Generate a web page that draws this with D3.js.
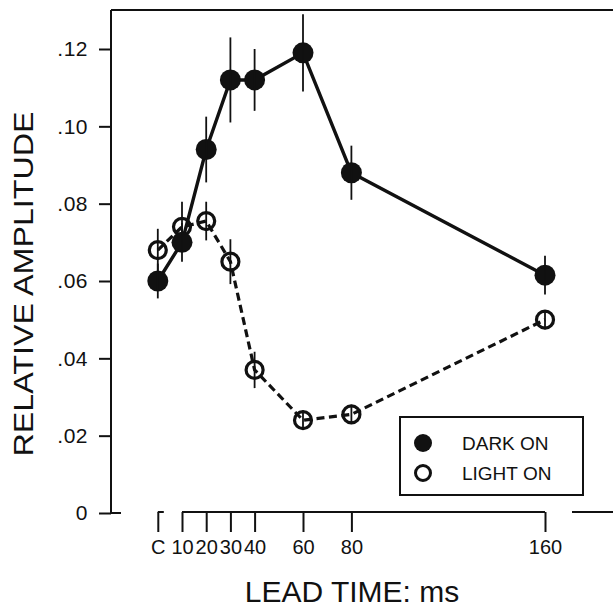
<!DOCTYPE html>
<html>
<head>
<meta charset="utf-8">
<script src="https://cdn.jsdelivr.net/npm/d3@7"></script>
<style>
  html, body { margin: 0; padding: 0; background: #fff; }
  svg { display: block; }
  text { font-family: "Liberation Sans", Arial, Helvetica, sans-serif; fill: #111; }
</style>
</head>
<body>
<svg id="chart" width="613" height="610"></svg>
<script>
// Lead times (ms); 0 stands for the control condition "C"
const leadTimes = [0, 10, 20, 30, 40, 60, 80, 160];
const leadLabels = ["C", "10", "20", "30", "40", "60", "80", "160"];

// Relative amplitude, mean and error, per lead time
const darkOn = [0.060, 0.070, 0.094, 0.112, 0.112, 0.119, 0.088, 0.0615];
const darkOnErr = [0.0045, 0.005, 0.0085, 0.011, 0.008, 0.010, 0.007, 0.005];
const lightOn = [0.068, 0.074, 0.0755, 0.065, 0.037, 0.024, 0.0255, 0.050];
const lightOnErr = [0.0055, 0.0065, 0.005, 0.0058, 0.0047, 0.0025, 0.0025, 0.0025];

const yTicks = [0, 0.02, 0.04, 0.06, 0.08, 0.10, 0.12];
const legendLabels = ["DARK ON", "LIGHT ON"];

const ink = "#111";
const svg = d3.select("#chart");

const x = d3.scaleLinear().domain([0, 160]).range([157.8, 545]);
const y = d3.scaleLinear().domain([0, 0.12]).range([513, 49]);

const axisX0 = 111;   // y-axis position
const frameTop = 10;

// Frame: left axis line and top border
svg.append("line").attr("x1", axisX0).attr("x2", axisX0)
  .attr("y1", frameTop).attr("y2", y(0))
  .attr("stroke", ink).attr("stroke-width", 2);
svg.append("line").attr("x1", axisX0).attr("x2", 613)
  .attr("y1", frameTop).attr("y2", frameTop)
  .attr("stroke", ink).attr("stroke-width", 2);

// Y axis ticks and labels
const yAxis = d3.axisLeft(y)
  .tickValues(yTicks)
  .tickSize(12)
  .tickPadding(11)
  .tickFormat(d => d === 0 ? "0" : d3.format(".2f")(d).replace(/^0/, ""));
const gy = svg.append("g").attr("transform", `translate(${axisX0},0)`).call(yAxis);
gy.select(".domain").remove();
gy.selectAll(".tick line").attr("stroke", ink).attr("stroke-width", 2);
gy.selectAll(".tick text").style("font-size", "21px").attr("fill", ink)
  .attr("letter-spacing", "0.5px");
// foot of the y axis at zero
svg.append("line").attr("x1", axisX0).attr("x2", axisX0 + 10)
  .attr("y1", y(0)).attr("y2", y(0))
  .attr("stroke", ink).attr("stroke-width", 2);

// X axis: separate stub for C, then the lead-time axis, then the frame piece at right
const xBase = 512;
const xAxis = d3.axisBottom(x)
  .tickValues(leadTimes)
  .tickSize(20)
  .tickPadding(8)
  .tickFormat((d, i) => leadLabels[i]);
const gx = svg.append("g").attr("transform", `translate(0,${xBase})`).call(xAxis);
gx.select(".domain").remove();
gx.selectAll(".tick line").attr("stroke", ink).attr("stroke-width", 2);
gx.selectAll(".tick text").style("font-size", "20px").attr("fill", ink);

const segs = [
  [x(0), x(0) + 6],
  [x(10), x(160)],
  [572, 613]
];
svg.selectAll("line.xseg").data(segs).join("line")
  .attr("class", "xseg")
  .attr("x1", d => d[0]).attr("x2", d => d[1])
  .attr("y1", xBase).attr("y2", xBase)
  .attr("stroke", ink).attr("stroke-width", 2);

// Axis titles
svg.append("text")
  .attr("x", 352).attr("y", 602)
  .attr("text-anchor", "middle")
  .style("font-size", "30px")
  .text("LEAD TIME: ms");

svg.append("text")
  .attr("transform", "translate(33,284) rotate(-90)")
  .attr("text-anchor", "middle")
  .attr("textLength", 345)
  .attr("lengthAdjust", "spacingAndGlyphs")
  .style("font-size", "28px")
  .text("RELATIVE AMPLITUDE");

// Series
const dark = leadTimes.map((t, i) => ({ t, v: darkOn[i], e: darkOnErr[i] }));
const light = leadTimes.map((t, i) => ({ t, v: lightOn[i], e: lightOnErr[i] }));

const line = d3.line().x(d => x(d.t)).y(d => y(d.v));

svg.append("path").datum(light).attr("d", line)
  .attr("fill", "none").attr("stroke", ink).attr("stroke-width", 3.2)
  .attr("stroke-dasharray", "8,4.5");
svg.append("path").datum(dark).attr("d", line)
  .attr("fill", "none").attr("stroke", ink).attr("stroke-width", 3.4);

// Markers
svg.selectAll("circle.light").data(light).join("circle")
  .attr("class", "light")
  .attr("cx", d => x(d.t)).attr("cy", d => y(d.v)).attr("r", 8.5)
  .attr("fill", "none").attr("stroke", ink).attr("stroke-width", 3.2);
svg.selectAll("circle.dark").data(dark).join("circle")
  .attr("class", "dark")
  .attr("cx", d => x(d.t)).attr("cy", d => y(d.v)).attr("r", 10.5)
  .attr("fill", ink);

// Error bars
svg.selectAll("line.err").data(dark.concat(light)).join("line")
  .attr("class", "err")
  .attr("x1", d => x(d.t)).attr("x2", d => x(d.t))
  .attr("y1", d => y(d.v - d.e)).attr("y2", d => y(d.v + d.e))
  .attr("stroke", ink).attr("stroke-width", 1.8);

// Legend
const lg = svg.append("g").attr("transform", "translate(400,417)");
lg.append("rect").attr("width", 183).attr("height", 78)
  .attr("fill", "#fff").attr("stroke", ink).attr("stroke-width", 2);
lg.append("circle").attr("cx", 23).attr("cy", 26).attr("r", 9).attr("fill", ink);
lg.append("circle").attr("cx", 23).attr("cy", 56).attr("r", 7.5)
  .attr("fill", "none").attr("stroke", ink).attr("stroke-width", 3);
lg.selectAll("text").data(legendLabels).join("text")
  .attr("x", 62).attr("y", (d, i) => 26 + i * 30)
  .attr("dy", "0.35em")
  .style("font-size", "19px")
  .text(d => d);
</script>
</body>
</html>
